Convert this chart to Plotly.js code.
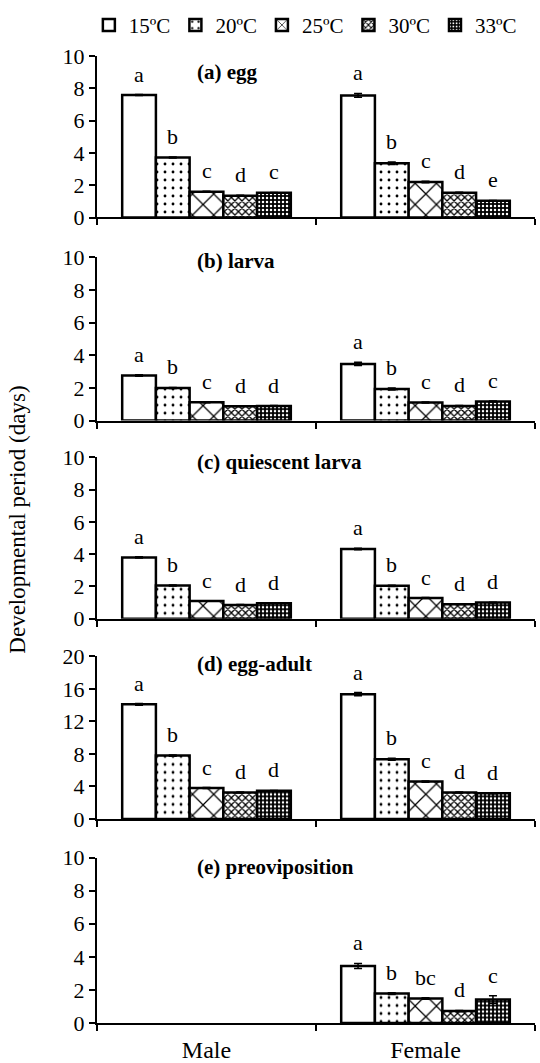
<!DOCTYPE html>
<html>
<head>
<meta charset="utf-8">
<script src="https://cdn.plot.ly/plotly-3.0.1.min.js"></script>
<style>html,body{margin:0;padding:0;background:#fff;}#chart{width:540px;height:1063px;}</style>
</head>
<body>
<div id="chart"></div>
<script>
// ---------------- DATA ----------------
const sexes = ['Male', 'Female'];
const temps = ['15ºC', '20ºC', '25ºC', '30ºC', '33ºC'];
const stageTitles = ['(a) egg', '(b) larva', '(c) quiescent larva', '(d) egg-adult', '(e) preoviposition'];

const eggMale        = [7.58, 3.72, 1.60, 1.35, 1.53];
const eggFemale      = [7.56, 3.36, 2.20, 1.53, 1.03];
const larvaMale      = [2.76, 2.00, 1.12, 0.88, 0.90];
const larvaFemale    = [3.47, 1.93, 1.11, 0.90, 1.17];
const quiescentMale  = [3.80, 2.06, 1.10, 0.86, 0.96];
const quiescentFemale= [4.32, 2.04, 1.28, 0.90, 1.00];
const eggAdultMale   = [14.10, 7.80, 3.80, 3.25, 3.45];
const eggAdultFemale = [15.35, 7.35, 4.60, 3.25, 3.15];
const preoviMale     = [null, null, null, null, null];
const preoviFemale   = [3.45, 1.78, 1.48, 0.72, 1.42];

const eggMaleErr        = [0.03, 0.03, 0.02, 0.02, 0.02];
const eggFemaleErr      = [0.12, 0.08, 0.05, 0.04, 0.03];
const larvaMaleErr      = [0.04, 0.03, 0.02, 0.02, 0.02];
const larvaFemaleErr    = [0.10, 0.06, 0.03, 0.03, 0.03];
const quiescentMaleErr  = [0.04, 0.03, 0.02, 0.02, 0.02];
const quiescentFemaleErr= [0.04, 0.04, 0.03, 0.02, 0.02];
const eggAdultMaleErr   = [0.10, 0.08, 0.05, 0.05, 0.05];
const eggAdultFemaleErr = [0.20, 0.12, 0.08, 0.06, 0.06];
const preoviMaleErr     = [0, 0, 0, 0, 0];
const preoviFemaleErr   = [0.15, 0.05, 0.05, 0.04, 0.22];

const eggMaleLetters        = ['a', 'b', 'c', 'd', 'c'];
const eggFemaleLetters      = ['a', 'b', 'c', 'd', 'e'];
const larvaMaleLetters      = ['a', 'b', 'c', 'd', 'd'];
const larvaFemaleLetters    = ['a', 'b', 'c', 'd', 'c'];
const quiescentMaleLetters  = ['a', 'b', 'c', 'd', 'd'];
const quiescentFemaleLetters= ['a', 'b', 'c', 'd', 'd'];
const eggAdultMaleLetters   = ['a', 'b', 'c', 'd', 'd'];
const eggAdultFemaleLetters = ['a', 'b', 'c', 'd', 'd'];
const preoviMaleLetters     = ['', '', '', '', ''];
const preoviFemaleLetters   = ['a', 'b', 'bc', 'd', 'c'];

// ---------------- BUILD ----------------
const maleVals = [eggMale, larvaMale, quiescentMale, eggAdultMale, preoviMale];
const femaleVals = [eggFemale, larvaFemale, quiescentFemale, eggAdultFemale, preoviFemale];
const maleErrs = [eggMaleErr, larvaMaleErr, quiescentMaleErr, eggAdultMaleErr, preoviMaleErr];
const femaleErrs = [eggFemaleErr, larvaFemaleErr, quiescentFemaleErr, eggAdultFemaleErr, preoviFemaleErr];
const maleLetters = [eggMaleLetters, larvaMaleLetters, quiescentMaleLetters, eggAdultMaleLetters, preoviMaleLetters];
const femaleLetters = [eggFemaleLetters, larvaFemaleLetters, quiescentFemaleLetters, eggAdultFemaleLetters, preoviFemaleLetters];

const FONT = "'Liberation Serif', 'Times New Roman', serif";
const patterns = [
  {shape: '', fillmode: 'replace'},
  {shape: '.', size: 8, solidity: 0.1, fgcolor: '#000', bgcolor: '#fff', fillmode: 'replace'},
  {shape: 'x', size: 15, solidity: 0.16, fgcolor: '#000', bgcolor: '#fff', fillmode: 'replace'},
  {shape: 'x', size: 5, solidity: 0.45, fgcolor: '#000', bgcolor: '#fff', fillmode: 'replace'},
  {shape: '.', size: 4, solidity: 0.3, fgcolor: '#fff', bgcolor: '#000', fillmode: 'replace'}
];

// panel pixel geometry
const H = 1063, mt = 47, mb = 40, ml = 97, mr = 5;
const plotH = H - mt - mb;
const plotBottom = H - mb;
const panelTop = [47, 250, 452, 653, 856];
const panelBot = [210, 415, 615, 817, 1023];
const yMax = [10, 10, 10, 20, 10];
const yDtick = [2, 2, 2, 4, 2];
const titleOffsetPx = [16, 4, 5, 8, 10];
const bargap = 0.23;
const bw = (1 - bargap) / temps.length;

const traces = [];
const annotations = [];
const layout = {
  width: 540, height: 1063,
  margin: {l: ml, r: mr, t: mt, b: mb},
  paper_bgcolor: '#fff', plot_bgcolor: '#fff',
  barmode: 'group', bargap: bargap, bargroupgap: 0,
  font: {family: FONT, color: '#000', size: 22},
  showlegend: true,
  legend: {
    orientation: 'h', x: 0.97, xanchor: 'right', y: 1 + (mt - 16) / plotH, yanchor: 'middle',
    font: {family: FONT, size: 21, color: '#000'}, itemwidth: 30, traceorder: 'normal',
    bgcolor: 'rgba(0,0,0,0)', tracegroupgap: 0
  },
  annotations: annotations
};

for (let p = 0; p < 5; p++) {
  const sfx = p === 0 ? '' : String(p + 1);
  const xa = 'x' + sfx, ya = 'y' + sfx;
  for (let t = 0; t < temps.length; t++) {
    traces.push({
      type: 'bar',
      name: temps[t],
      legendgroup: temps[t],
      showlegend: p === 0,
      x: sexes,
      y: [maleVals[p][t], femaleVals[p][t]],
      xaxis: xa, yaxis: ya,
      marker: {color: '#fff', line: {color: '#000', width: 2.5}, pattern: patterns[t]},
      error_y: {type: 'data', array: [maleErrs[p][t], femaleErrs[p][t]], visible: true,
                color: '#000', thickness: 1.5, width: 4},
      hoverinfo: 'skip'
    });
    const vals = [maleVals[p][t], femaleVals[p][t]];
    const errs = [maleErrs[p][t], femaleErrs[p][t]];
    const lets = [maleLetters[p][t], femaleLetters[p][t]];
    for (let s = 0; s < 2; s++) {
      if (vals[s] === null || !lets[s]) continue;
      annotations.push({
        xref: xa, yref: ya, x: s + (t - 2) * bw, y: vals[s] + errs[s],
        text: lets[s], showarrow: false, xanchor: 'center', yanchor: 'bottom', yshift: 6,
        font: {family: FONT, size: 22, color: '#000'}
      });
    }
  }
  const dom = [(plotBottom - panelBot[p]) / plotH, (plotBottom - panelTop[p]) / plotH];
  layout['xaxis' + sfx] = {
    anchor: ya, domain: [0, 1], type: 'category', range: [-0.5, 1.5],
    tickson: 'boundaries', ticks: 'outside', ticklen: 6, tickwidth: 2, tickcolor: '#000',
    showline: true, linewidth: 2, linecolor: '#000', showgrid: false, zeroline: false,
    showticklabels: p === 4, tickfont: {family: FONT, size: 24, color: '#000'}, ticklabelstandoff: 4
  };
  layout['yaxis' + sfx] = {
    anchor: xa, domain: dom, range: [0, yMax[p]], dtick: yDtick[p], tick0: 0,
    ticks: 'outside', ticklen: 6, tickwidth: 2, tickcolor: '#000',
    showline: true, linewidth: 2, linecolor: '#000', showgrid: false, zeroline: false,
    tickfont: {family: FONT, size: 22, color: '#000'}
  };
  annotations.push({
    xref: 'paper', yref: ya + ' domain', x: (195 - ml) / (540 - ml - mr), xanchor: 'left',
    y: 1 - titleOffsetPx[p] / (panelBot[p] - panelTop[p]), yanchor: 'middle',
    text: '<b>' + stageTitles[p] + '</b>', showarrow: false,
    font: {family: FONT, size: 21, color: '#000'}
  });
}

annotations.push({
  xref: 'paper', yref: 'paper', x: (18 - ml) / (540 - ml - mr), y: (plotBottom - 515) / plotH,
  xanchor: 'center', yanchor: 'middle', textangle: -90, showarrow: false,
  text: 'Developmental period (days)', font: {family: FONT, size: 23, color: '#000'}
});

Plotly.newPlot('chart', traces, layout, {displayModeBar: false, staticPlot: true});
</script>
</body>
</html>
